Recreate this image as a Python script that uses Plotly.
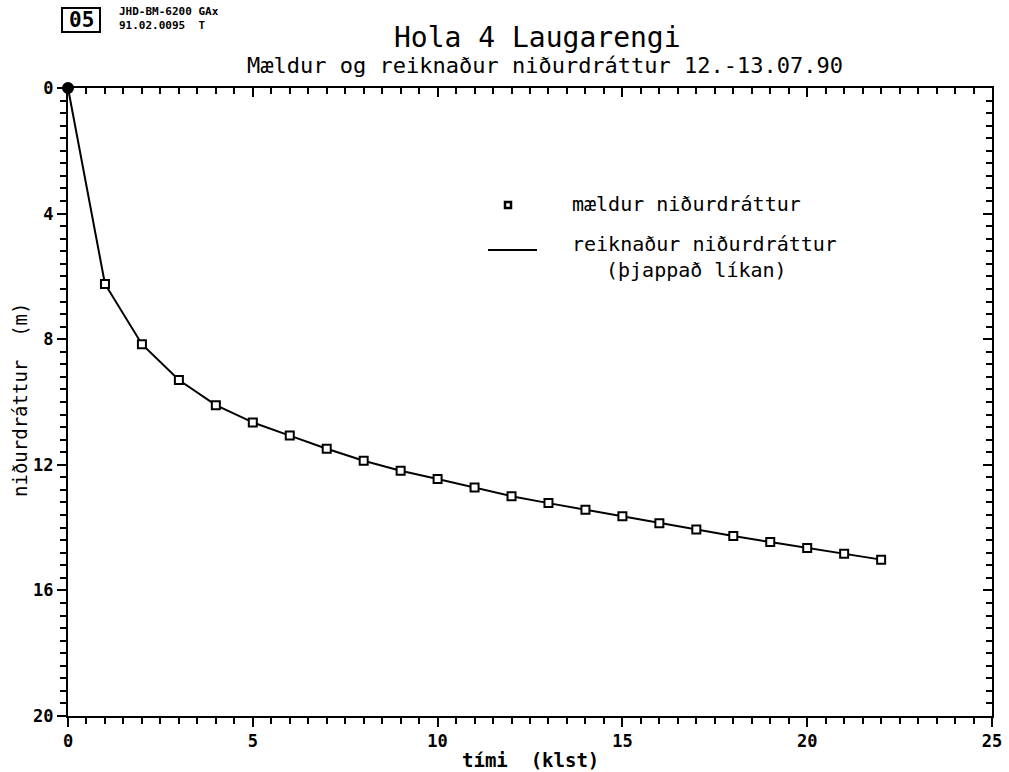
import plotly.graph_objects as go

# Drawdown test, well 4 at Laugarengi
timi_klst = [0, 1, 2, 3, 4, 5, 6, 7, 8, 9, 10, 11, 12, 13, 14, 15, 16, 17, 18, 19, 20, 21, 22]
maeldur = [0.0, 6.24, 8.16, 9.30, 10.10, 10.65, 11.07, 11.49, 11.87, 12.19, 12.45, 12.72,
           13.00, 13.22, 13.43, 13.64, 13.86, 14.06, 14.27, 14.46, 14.65, 14.83, 15.02]
reiknadur = [0.0, 6.24, 8.16, 9.30, 10.10, 10.65, 11.07, 11.49, 11.87, 12.19, 12.45, 12.72,
             13.00, 13.22, 13.43, 13.64, 13.86, 14.06, 14.27, 14.46, 14.65, 14.83, 15.02]

x_range = [0, 25]
y_range = [20, 0]
x_ticks = [0, 5, 10, 15, 20, 25]
y_ticks = [0, 4, 8, 12, 16, 20]

FONT = "DejaVu Sans Mono"
INK = "#000000"

# plot area in pixels, used to place the header and legend in paper units
L, R, T, B = 68, 992, 88, 716
W, H = R - L, B - T


def px(x):
    return (x - L) / W


def py(y):
    return (B - y) / H


fig = go.Figure()

# computed curve
fig.add_trace(go.Scatter(
    x=timi_klst, y=reiknadur, mode="lines",
    line=dict(color=INK, width=2), showlegend=False, cliponaxis=False,
))
# measured points (origin drawn as a solid dot)
symbols = ["circle" if t == 0 else "square" for t in timi_klst]
fills = [INK if t == 0 else "white" for t in timi_klst]
sizes = [10 if t == 0 else 8 for t in timi_klst]
fig.add_trace(go.Scatter(
    x=timi_klst, y=maeldur, mode="markers", opacity=1,
    marker=dict(symbol=symbols, size=sizes, color=fills, opacity=1,
                line=dict(color=INK, width=2)),
    showlegend=False, cliponaxis=False,
))
# helper trace so the mirrored top/right axes are rendered
fig.add_trace(go.Scatter(x=[None], y=[None], xaxis="x2", yaxis="y2", showlegend=False))

axis_common = dict(showgrid=False, zeroline=False, showline=True, linecolor=INK, linewidth=2,
                   tickcolor=INK, tickwidth=2, automargin=False)

fig.update_layout(
    width=1009, height=772,
    margin=dict(l=L, r=1009 - R, t=T, b=772 - B),
    paper_bgcolor="white", plot_bgcolor="white",
    font=dict(family=FONT, color=INK, size=14),
    xaxis=dict(range=x_range, tickvals=x_ticks, ticks="outside", ticklen=9,
               minor=dict(dtick=0.5, ticks="outside", ticklen=6, tickcolor=INK, tickwidth=2),
               tickfont=dict(size=17, family=FONT, weight="bold"),
               **axis_common),
    yaxis=dict(range=y_range, tickvals=y_ticks, ticks="outside", ticklen=9,
               minor=dict(dtick=0.4, ticks="outside", ticklen=6, tickcolor=INK, tickwidth=2),
               tickfont=dict(size=17, family=FONT, weight="bold"),
               **axis_common),
    xaxis2=dict(range=x_range, overlaying="x", side="top", showticklabels=False,
                tickvals=x_ticks, ticks="inside", ticklen=9,
                minor=dict(dtick=0.5, ticks="inside", ticklen=6, tickcolor=INK, tickwidth=2),
                **axis_common),
    yaxis2=dict(range=y_range, overlaying="y", side="right", showticklabels=False,
                tickvals=y_ticks, ticks="inside", ticklen=9,
                minor=dict(dtick=0.4, ticks="inside", ticklen=6, tickcolor=INK, tickwidth=2),
                **axis_common),
)


def label(text, x, y, size, xanchor="center", bold=False, align="left", angle=0):
    fig.add_annotation(text=text, xref="paper", yref="paper", x=px(x), y=py(y),
                       showarrow=False, xanchor=xanchor, yanchor="middle", align=align,
                       textangle=angle,
                       font=dict(family=FONT, color=INK, size=size,
                                 weight="bold" if bold else "normal"))


label("Hola 4 Laugarengi", 537, 38, 28)
label("Mældur og reiknaður niðurdráttur 12.-13.07.90", 545, 65, 22)

# axis titles
label("tími  (klst)", 530, 760, 19, bold=True)
label("niðurdráttur  (m)", 20, 400, 19, angle=-90)

# header stamp
fig.add_shape(type="rect", xref="paper", yref="paper",
              x0=px(62), x1=px(100), y0=py(32), y1=py(8),
              line=dict(color=INK, width=2))
label("05", 81, 20, 21, bold=True)
label("JHD-BM-6200 GAx<br>91.02.0095  T", 117, 19, 11, xanchor="left", bold=True)

# legend
fig.add_shape(type="rect", xref="paper", yref="paper",
              x0=px(505), x1=px(511), y0=py(208), y1=py(202),
              line=dict(color=INK, width=2.5))
fig.add_shape(type="line", xref="paper", yref="paper",
              x0=px(488), x1=px(537), y0=py(250), y1=py(250),
              line=dict(color=INK, width=2))
label("mældur niðurdráttur", 570, 204, 20, xanchor="left")
label("reiknaður niðurdráttur", 570, 244, 20, xanchor="left")
label("(þjappað líkan)", 604, 270, 20, xanchor="left")

fig.write_html("out.html")
